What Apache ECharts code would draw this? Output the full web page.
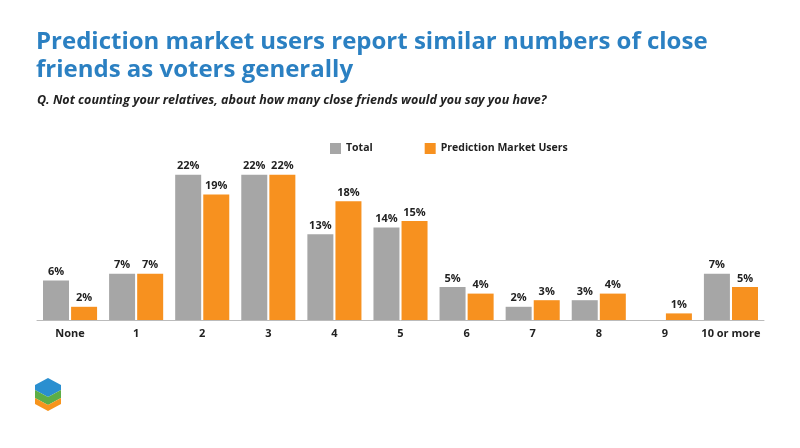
<!DOCTYPE html>
<html><head><meta charset="utf-8">
<script src="https://cdn.jsdelivr.net/npm/echarts@6/dist/echarts.min.js"></script>
<style>html,body{margin:0;padding:0;background:#fff}#c{width:800px;height:448px}</style>
</head><body><div id="c"></div>
<script>
const categories = ['None','1','2','3','4','5','6','7','8','9','10 or more'];
const totalValues = [6,7,22,22,13,14,5,2,3,null,7];
const pmuValues = [2,7,19,22,18,15,4,3,4,1,5];
const seriesNames = ['Total','Prediction Market Users'];
const titleText = 'Prediction market users report similar numbers of close\nfriends as voters generally';
const subtitleText = 'Q. Not counting your relatives, about how many close friends would you say you have?';

const chart = echarts.init(document.getElementById('c'), null, {renderer:'canvas'});
const font = '"Open Sans", sans-serif';
const lbl = {show:true, position:'top', distance:3, formatter:p=>p.value==null?'':p.value+'%', color:'#222', fontWeight:'bold', fontSize:11, fontFamily:font};
chart.setOption({
  animation:false,
  title:[{text:titleText, left:36, top:28, padding:0, textStyle:{color:'#2b80c2', fontSize:24, fontWeight:'bold', fontFamily:font, lineHeight:28}},
         {text:subtitleText, left:37, top:94, padding:0, textStyle:{color:'#222', fontSize:12.5, fontWeight:'bold', fontStyle:'italic', fontFamily:font}}],
  legend:{top:138, left:325, itemWidth:11, itemHeight:11, itemGap:52, icon:'rect',
    textStyle:{fontWeight:'bold', fontSize:10.5, color:'#222', fontFamily:font}, data:seriesNames},
  grid:{left:37, right:36, top:155, bottom:128},
  xAxis:{type:'category', data:categories, axisTick:{show:false},
    axisLine:{lineStyle:{color:'#bbb'}},
    axisLabel:{interval:0, color:'#222', fontWeight:'bold', fontSize:11, fontFamily:font, margin:8}},
  yAxis:{type:'value', min:0, max:25, show:false, splitLine:{show:false}},
  series:[
    {name:seriesNames[0], type:'bar', data:totalValues, barWidth:26, barGap:'8%', itemStyle:{color:'#a6a6a6'}, label:lbl},
    {name:seriesNames[1], type:'bar', data:pmuValues, barWidth:26, itemStyle:{color:'#f7911f'}, label:lbl}
  ],
  graphic:[
    {type:'polygon', shape:{points:[[48,378],[61,385],[61,390],[48,397],[35,390],[35,385]]}, style:{fill:'#2a8fd0'}},
    {type:'polygon', shape:{points:[[35,390],[48,397],[61,390],[61,398],[48,405],[35,398]]}, style:{fill:'#5cae47'}},
    {type:'polygon', shape:{points:[[35,398],[48,405],[61,398],[61,404],[48,411],[35,404]]}, style:{fill:'#f7941d'}}
  ]
});
</script></body></html>
